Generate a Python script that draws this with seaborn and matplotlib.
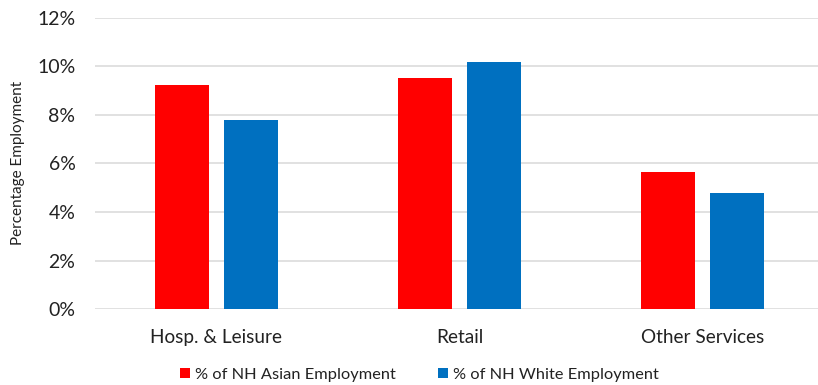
import matplotlib
matplotlib.use("Agg")
import matplotlib.pyplot as plt
import seaborn as sns
import pandas as pd
from matplotlib.ticker import FuncFormatter, MultipleLocator
from matplotlib.patches import Patch

categories = ["Hosp. & Leisure", "Retail", "Other Services"]
series_names = ["% of NH Asian Employment", "% of NH White Employment"]
asian_values = [9.22, 9.5, 5.64]
white_values = [7.78, 10.16, 4.77]
colors = ["#FF0000", "#0070C0"]

df = pd.DataFrame({
    "Industry": categories * 2,
    "Group": [series_names[0]] * 3 + [series_names[1]] * 3,
    "Value": asian_values + white_values,
})

sns.set_theme(style="white")
plt.rcParams["font.family"] = ["Lato", "DejaVu Sans"]

fig = plt.figure(figsize=(8.18, 3.85), dpi=100)
ax = fig.add_axes([0.116, 0.197, 0.884, 0.7575])

sns.barplot(data=df, x="Industry", y="Value", hue="Group", order=categories,
            hue_order=series_names, palette=colors, width=0.568, gap=0.217,
            saturation=1, ax=ax, legend=False, edgecolor="none")

ax.set_ylim(0, 12)
ax.set_xlim(-0.5, 2.475)
ax.yaxis.set_major_locator(MultipleLocator(2))
ax.yaxis.set_major_formatter(FuncFormatter(lambda v, _: f"{v:.0f}%"))
ax.grid(axis="y", color="#d9d9d9", linewidth=1.1)
ax.set_axisbelow(True)
for s in ax.spines.values():
    s.set_visible(False)
ax.tick_params(axis="both", length=0, colors="#222222")
ax.tick_params(axis="x", labelsize=13.7, pad=14)
ax.tick_params(axis="y", labelsize=14, pad=14)
ax.set_xlabel("")
ax.set_ylabel("Percentage Employment", fontsize=11, color="#222222", labelpad=9)

handles = [Patch(facecolor=c, edgecolor="none") for c in colors]
fig.legend(handles, series_names, loc="center", bbox_to_anchor=(0.513, 0.026),
           ncol=2, frameon=False, fontsize=11.8, handlelength=0.6, handleheight=0.6,
           handletextpad=0.3, columnspacing=2.6, labelcolor="#222222",
           borderpad=0, borderaxespad=0)

fig.savefig("out.png", dpi=100)
